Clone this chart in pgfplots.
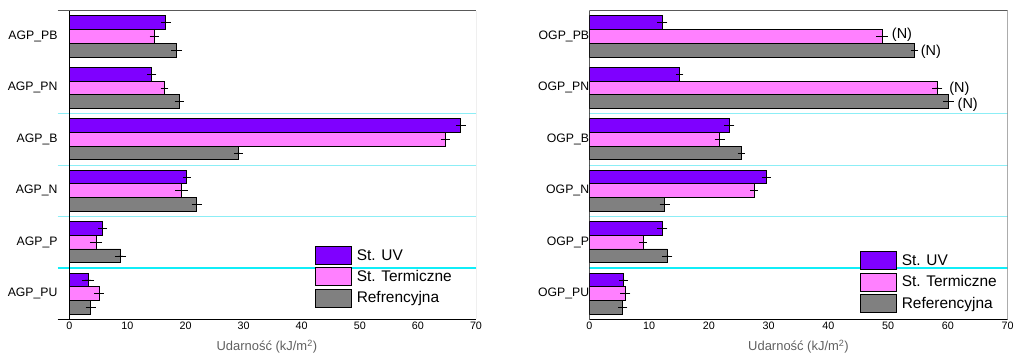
\documentclass[border=0pt]{standalone}
\usepackage{pgfplots}
\pgfplotsset{compat=1.18}
\usepackage{pgfplotstable}
\usepackage{fontspec}
\setmainfont{Liberation Sans}
\definecolor{cUV}{HTML}{7F00FF}
\definecolor{cTh}{HTML}{FF80FF}
\definecolor{cRef}{HTML}{808080}
\definecolor{cyanL}{HTML}{8CEEF6}
\definecolor{cyanB}{HTML}{10EEF8}
\definecolor{lblgray}{HTML}{606060}

% left chart (AGP)
\pgfplotstableread{
y x e
5.266 16.6 0.25
4.266 14.2 0.2
3.266 67.4 0.3
2.266 20.2 0.15
1.266 5.75 0.2
0.266 3.2 0.5
}\aUV
\pgfplotstableread{
y x e
5 14.6 0.2
4 16.4 0.1
3 64.7 0.2
2 19.3 0.5
1 4.6 0.5
0 5.1 0.3
}\aTh
\pgfplotstableread{
y x e
4.734 18.5 0.35
3.734 18.9 0.2
2.734 29.1 0.2
1.734 21.9 0.3
0.734 8.85 0.35
-0.266 3.7 0.3
}\aRef
% right chart (OGP)
\pgfplotstableread{
y x e
5.266 12.2 0.3
4.266 15.1 0.1
3.266 23.4 0.3
2.266 29.6 0.2
1.266 12.2 0.3
0.266 5.7 0.2
}\oUV
\pgfplotstableread{
y x e
5 49.0 0.4
4 58.2 0.3
3 21.8 0.3
2 27.6 0.1
1 9.0 0.1
0 6.0 0.3
}\oTh
\pgfplotstableread{
y x e
4.734 54.4 0.1
3.734 60.1 0.3
2.734 25.4 0.05
1.734 12.6 0.3
0.734 13.05 0.3
-0.266 5.6 0.2
}\oRef

\pgfplotsset{
  common/.style={
    scale only axis, height=308.6bp,
    ymin=-0.5, ymax=5.5, xmax=70,
    xtick={0,10,...,70}, ytick={0,1,2,3,4,5},
    major tick length=0pt,
    axis line style={draw=none},
    xbar, bar width=0.266, bar shift=0,
    /pgf/number format/assume math mode=true,
    xticklabel style={font=\fontsize{10.8}{12}\selectfont, inner sep=0pt, yshift=-2.7bp},
    yticklabel style={font=\fontsize{12.3}{14}\selectfont, inner sep=0pt},
    xlabel={Udarność (kJ/m\textsuperscript{2})},
    xlabel style={at={(axis description cs:0.5,0)}, anchor=base, yshift=-31.2bp,
      inner sep=0pt, font=\fontsize{13}{15}\selectfont, text=lblgray},
    legend image code/.code={\draw[##1, line width=0.8bp] (0bp,-9bp) rectangle (36bp,9bp); \path (41bp,0bp);},
    legend cell align=left,
    legend style={draw=none, fill=none, inner sep=0pt, outer sep=0pt, row sep=2.5bp,
      nodes={inner sep=0pt}, font=\fontsize{15.5}{17}\selectfont, anchor=north west},
    error bars/error bar style={black, line width=0.6bp},
    error bars/error mark options={black, line width=0.6bp, mark size=3.3bp},
  },
  uv/.style={draw=black, line width=0.8bp, fill=cUV},
  th/.style={draw=black, line width=0.8bp, fill=cTh},
  rf/.style={draw=black, line width=0.8bp, fill=cRef},
}

\begin{document}
\begin{tikzpicture}
\useasboundingbox (0,0) rectangle (1015bp,354bp);
% ---------------- left -----------------
\begin{axis}[common, at={(57.7bp,34.7bp)}, anchor=south west, width=418.3bp,
  xmin=-2,
  yticklabels={AGP\_PU,AGP\_P,AGP\_N,AGP\_B,AGP\_PN,AGP\_PB},
  legend style={at={(0.615,0.2375)}}]
\draw[color=cyanL, line width=1bp] (axis cs:-2,3.5) -- (axis cs:70,3.5);
\draw[color=cyanL, line width=1bp] (axis cs:-2,2.5) -- (axis cs:70,2.5);
\draw[color=cyanL, line width=1bp] (axis cs:-2,1.5) -- (axis cs:70,1.5);
\draw[color=cyanB, line width=1.4bp] (axis cs:-2,0.5) -- (axis cs:70,0.5);
\addplot[uv, error bars/.cd, x dir=both, x explicit] table[x=x, y=y, x error=e] {\aUV};
\addlegendentry{St. UV}
\addplot[th, error bars/.cd, x dir=both, x explicit] table[x=x, y=y, x error=e] {\aTh};
\addlegendentry{St. Termiczne}
\addplot[rf, error bars/.cd, x dir=both, x explicit] table[x=x, y=y, x error=e] {\aRef};
\addlegendentry{Refrencyjna}
\draw[gray!70!black, line width=0.8bp] (axis cs:-2,5.5) -- (axis cs:70,5.5);
\draw[gray, line width=1bp] (axis cs:70,5.5) -- (axis cs:70,-0.5);
\draw[black, line width=1.3bp] (axis cs:-2,-0.5) -- (axis cs:70,-0.5);
\draw[black, line width=0.9bp] (axis cs:0,-0.5) -- (axis cs:0,5.5);
\end{axis}
% ---------------- right -----------------
\begin{axis}[common, at={(589.3bp,34.7bp)}, anchor=south west, width=418.4bp,
  xmin=0,
  yticklabels={OGP\_PU,OGP\_P,OGP\_N,OGP\_B,OGP\_PN,OGP\_PB},
  legend style={at={(0.647,0.220)}}]
\draw[color=cyanL, line width=1bp] (axis cs:0,3.5) -- (axis cs:70,3.5);
\draw[color=cyanL, line width=1bp] (axis cs:0,2.5) -- (axis cs:70,2.5);
\draw[color=cyanL, line width=1bp] (axis cs:0,1.5) -- (axis cs:70,1.5);
\draw[color=cyanB, line width=1.4bp] (axis cs:0,0.5) -- (axis cs:70,0.5);
\addplot[uv, error bars/.cd, x dir=both, x explicit] table[x=x, y=y, x error=e] {\oUV};
\addlegendentry{St. UV}
\addplot[th, error bars/.cd, x dir=both, x explicit] table[x=x, y=y, x error=e] {\oTh};
\addlegendentry{St. Termiczne}
\addplot[rf, error bars/.cd, x dir=both, x explicit] table[x=x, y=y, x error=e] {\oRef};
\addlegendentry{Referencyjna}
\draw[gray!70!black, line width=0.8bp] (axis cs:0,5.5) -- (axis cs:70,5.5);
\draw[gray, line width=1bp] (axis cs:70,5.5) -- (axis cs:70,-0.5);
\draw[black, line width=1.3bp] (axis cs:0,-0.5) -- (axis cs:70,-0.5);
\draw[black, line width=0.9bp] (axis cs:0,-0.5) -- (axis cs:0,5.5);
\node[anchor=west, inner sep=0pt, font=\fontsize{14.5}{16}\selectfont] at (axis cs:50.6,5.03) {(N)};
\node[anchor=west, inner sep=0pt, font=\fontsize{14.5}{16}\selectfont] at (axis cs:55.45,4.70) {(N)};
\node[anchor=west, inner sep=0pt, font=\fontsize{14.5}{16}\selectfont] at (axis cs:60.2,3.99) {(N)};
\node[anchor=west, inner sep=0pt, font=\fontsize{14.5}{16}\selectfont] at (axis cs:61.6,3.67) {(N)};
\end{axis}
\end{tikzpicture}
\end{document}
